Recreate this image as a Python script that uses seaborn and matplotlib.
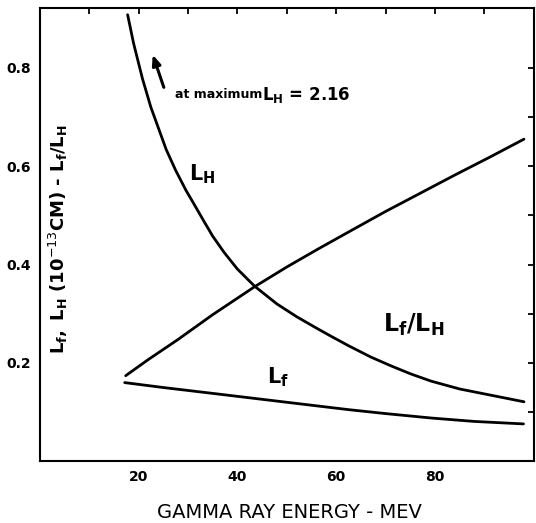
import matplotlib
matplotlib.use("Agg")
import matplotlib.pyplot as plt
import seaborn as sns
from matplotlib.ticker import FixedLocator

# values (energy in MeV)
lh_energy = [17.8, 19.0, 20.8, 22.5, 25.6, 27.5, 29.6, 31.0, 33.3, 35.0, 37.3, 40.0,
             43.5, 48.0, 52.0, 55.8, 59.0, 62.5, 67.0, 71.1, 75.0, 79.2, 85.0, 92.0, 98.0]
lh_value = [0.908, 0.850, 0.778, 0.720, 0.634, 0.592, 0.551, 0.527, 0.487, 0.458, 0.425,
            0.391, 0.356, 0.320, 0.294, 0.272, 0.254, 0.235, 0.212, 0.194, 0.178, 0.163,
            0.147, 0.133, 0.121]

ratio_energy = [17.4, 22.0, 27.9, 35.0, 43.5, 50.0, 56.4, 63.0, 70.0, 77.0, 84.0, 91.0, 98.0]
ratio_value = [0.174, 0.207, 0.247, 0.298, 0.355, 0.395, 0.432, 0.469, 0.508, 0.545,
               0.582, 0.618, 0.655]

lf_energy = [17.2, 25.0, 35.9, 50.0, 62.5, 70.0, 79.2, 88.0, 97.9]
lf_value = [0.160, 0.150, 0.137, 0.120, 0.105, 0.097, 0.088, 0.081, 0.076]

x_major = [20, 40, 60, 80]
x_minor = [10, 30, 50, 70, 90]
y_major = [0.2, 0.4, 0.6, 0.8]
y_minor = [0.1, 0.3, 0.5, 0.7]

sns.set_style("white")
plt.rcParams["font.family"] = ["DejaVu Sans"]
plt.rcParams["mathtext.fontset"] = "dejavusans"
plt.rcParams["text.color"] = "black"
plt.rcParams["axes.labelcolor"] = "black"

fig = plt.figure(figsize=(5.36, 5.23), dpi=100)
ax = fig.add_axes([0.074, 0.118, 0.922, 0.867])

line_kw = dict(color="black", linewidth=2.0, estimator=None, sort=False, ax=ax)
sns.lineplot(x=lh_energy, y=lh_value, **line_kw)
sns.lineplot(x=ratio_energy, y=ratio_value, **line_kw)
sns.lineplot(x=lf_energy, y=lf_value, **line_kw)

ax.set_xlim(0, 100)
ax.set_ylim(0, 0.922)

ax.xaxis.set_major_locator(FixedLocator(x_major))
ax.xaxis.set_minor_locator(FixedLocator(x_minor))
ax.yaxis.set_major_locator(FixedLocator(y_major))
ax.yaxis.set_minor_locator(FixedLocator(y_minor))
ax.set_xticklabels([str(v) for v in x_major], fontweight="bold", fontsize=10)
ax.set_yticklabels([f"{v:.1f}" for v in y_major], fontweight="bold", fontsize=10)
ax.tick_params(which="both", direction="in", length=4, width=1.3,
               top=True, right=True, colors="black", pad=6)

for s in ax.spines.values():
    s.set_linewidth(1.5)
    s.set_color("black")

ax.set_xlabel("GAMMA RAY ENERGY - MEV", fontsize=14)
ax.xaxis.set_label_coords(0.506, -0.092)
ax.set_ylabel(r"$\mathbf{L_f,\ L_H}$ (10$^{-13}$CM) - $\mathbf{L_f/L_H}$",
              fontsize=13, fontweight="bold")
ax.yaxis.set_label_coords(0.062, 0.49)

# curve labels
ax.text(30.3, 0.583, r"$\mathbf{L_H}$", fontsize=15, va="center")
ax.text(69.5, 0.278, r"$\mathbf{L_f/L_H}$", fontsize=17, va="center")
ax.text(46.0, 0.17, r"$\mathbf{L_f}$", fontsize=15, va="center")

# note about the maximum
ax.annotate("", xy=(22.7, 0.832), xytext=(25.3, 0.755),
            arrowprops=dict(arrowstyle="-|>,head_length=0.6,head_width=0.25",
                            color="black", lw=2.2))
ax.text(27.3, 0.745, "at maximum", fontsize=9, fontweight="bold", va="center")
ax.text(45.0, 0.745, r"$\mathbf{L_H}$ = 2.16", fontsize=12, fontweight="bold", va="center")

fig.savefig("out.png", dpi=100)
